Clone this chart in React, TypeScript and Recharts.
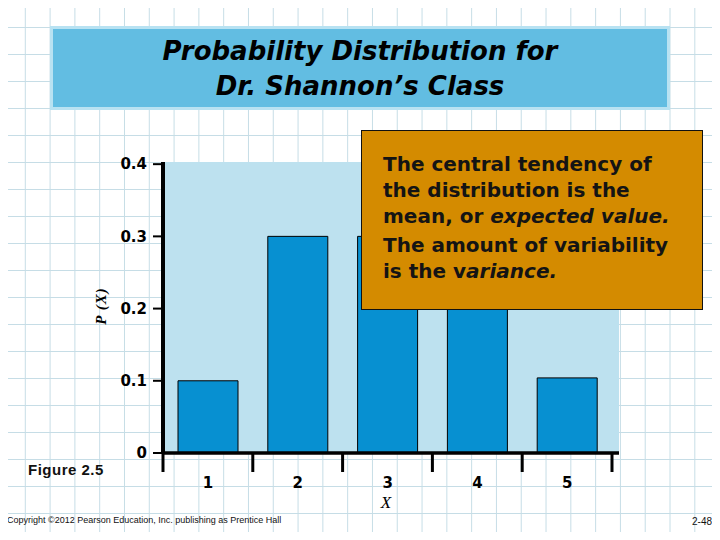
import React from "react";
import { BarChart, Bar, XAxis, YAxis, CartesianGrid } from "recharts";

const xValues = [1, 2, 3, 4, 5];
const xLabels = ["1", "2", "3", "4", "5"];
const probabilities = [0.1, 0.3, 0.3, 0.2, 0.104];
const yTicks = [0, 0.1, 0.2, 0.3, 0.4];
const xBoundaries = [0.5, 1.5, 2.5, 3.5, 4.5, 5.5];

const data = xValues.map((x, i) => ({ x, p: probabilities[i] }));

const sans = "'Liberation Sans', Arial, sans-serif";
const wide = "'DejaVu Sans', Verdana, sans-serif";
const serif = "'Liberation Serif', 'Times New Roman', serif";

// label sits in the middle of each band, tick line marks the band edge
function XTick(props: any) {
  const { x, y, payload } = props;
  const idx = xBoundaries.indexOf(payload.value);
  if (idx < 0 || idx >= xLabels.length) return null;
  return (
    <text
      x={x + 45}
      y={y}
      dy={14}
      textAnchor="middle"
      fontFamily={wide}
      fontWeight="bold"
      fontSize={15}
      fill="#000"
    >
      {xLabels[idx]}
    </text>
  );
}

export default function App() {
  return (
    <div
      style={{
        position: "relative",
        width: 720,
        height: 540,
        margin: -8,
        overflow: "hidden",
        backgroundColor: "#fff",
        backgroundImage:
          "linear-gradient(to right, #c6dde6 1px, transparent 1px), linear-gradient(to bottom, #c6dde6 1px, transparent 1px)",
        backgroundSize: "24.8px 27px",
        fontFamily: sans,
      }}
    >
      <div
        style={{
          position: "absolute",
          left: 50,
          top: 26,
          width: 620,
          height: 84,
          boxSizing: "border-box",
          background: "#62bde2",
          border: "3px solid #b8e2f2",
          textAlign: "center",
          fontFamily: wide,
          fontStyle: "italic",
          fontWeight: "bold",
          fontSize: 26,
          lineHeight: "35px",
          paddingTop: 5,
          color: "#000",
        }}
      >
        Probability Distribution for
        <br />
        Dr. Shannon’s Class
      </div>

      <div style={{ position: "absolute", left: 0, top: 0 }}>
        <BarChart
          width={720}
          height={540}
          data={data}
          margin={{ top: 162, right: 101, bottom: 47, left: 113 }}
        >
          <CartesianGrid
            horizontal={false}
            vertical={false}
            fill="#bde1ef"
            stroke="none"
          />
          <XAxis
            dataKey="x"
            type="number"
            domain={[0.5, 5.578]}
            ticks={xBoundaries}
            allowDataOverflow
            height={40}
            tickSize={19}
            tickMargin={2}
            tickLine={{ stroke: "#000", strokeWidth: 3 }}
            axisLine={{ stroke: "#000", strokeWidth: 3.5 }}
            tick={<XTick />}
            interval={0}
          />
          <YAxis
            type="number"
            domain={[0, 0.403]}
            ticks={yTicks}
            width={50}
            tickSize={10}
            tickMargin={6}
            tickLine={{ stroke: "#000", strokeWidth: 2 }}
            axisLine={{ stroke: "#000", strokeWidth: 4 }}
            tick={{
              fill: "#000",
              fontSize: 15,
              fontWeight: "bold",
              fontFamily: wide,
            }}
            interval={0}
          />
          <Bar
            dataKey="p"
            fill="#0790d1"
            stroke="#000"
            strokeWidth={1}
            barSize={60}
            isAnimationActive={false}
          />
        </BarChart>
      </div>

      <div
        style={{
          position: "absolute",
          left: 101,
          top: 306,
          transform: "translate(-50%, -50%) rotate(-90deg)",
          fontFamily: serif,
          fontStyle: "italic",
          fontWeight: "bold",
          fontSize: 15,
          letterSpacing: 1,
          whiteSpace: "nowrap",
        }}
      >
        P (X)
      </div>
      <div
        style={{
          position: "absolute",
          left: 386,
          top: 503,
          transform: "translate(-50%, -50%)",
          fontFamily: serif,
          fontStyle: "italic",
          fontSize: 17,
        }}
      >
        X
      </div>

      <div
        style={{
          position: "absolute",
          left: 361,
          top: 130,
          width: 342,
          height: 180,
          boxSizing: "border-box",
          background: "#d48b00",
          border: "1px solid #111",
          padding: "20px 0 0 21px",
          fontFamily: wide,
          fontWeight: "bold",
          fontSize: 20,
          lineHeight: "26px",
          color: "#141414",
          whiteSpace: "nowrap",
        }}
      >
        <div>
          The central tendency of
          <br />
          the distribution is the
          <br />
          mean, or <i>expected value.</i>
        </div>
        <div style={{ marginTop: 3 }}>
          The amount of variability
          <br />
          is the v<i>ariance.</i>
        </div>
      </div>

      <div
        style={{
          position: "absolute",
          left: 28,
          top: 461,
          fontSize: 15,
          fontWeight: "bold",
          letterSpacing: 0.5,
          color: "#111",
        }}
      >
        Figure 2.5
      </div>
      <div
        style={{
          position: "absolute",
          left: 7,
          top: 515,
          fontSize: 9,
          color: "#111",
          whiteSpace: "nowrap",
        }}
      >
        Copyright ©2012 Pearson Education, Inc. publishing as Prentice Hall
      </div>
      <div
        style={{
          position: "absolute",
          left: 692,
          top: 516,
          fontSize: 10,
          color: "#111",
        }}
      >
        2-48
      </div>
    </div>
  );
}
